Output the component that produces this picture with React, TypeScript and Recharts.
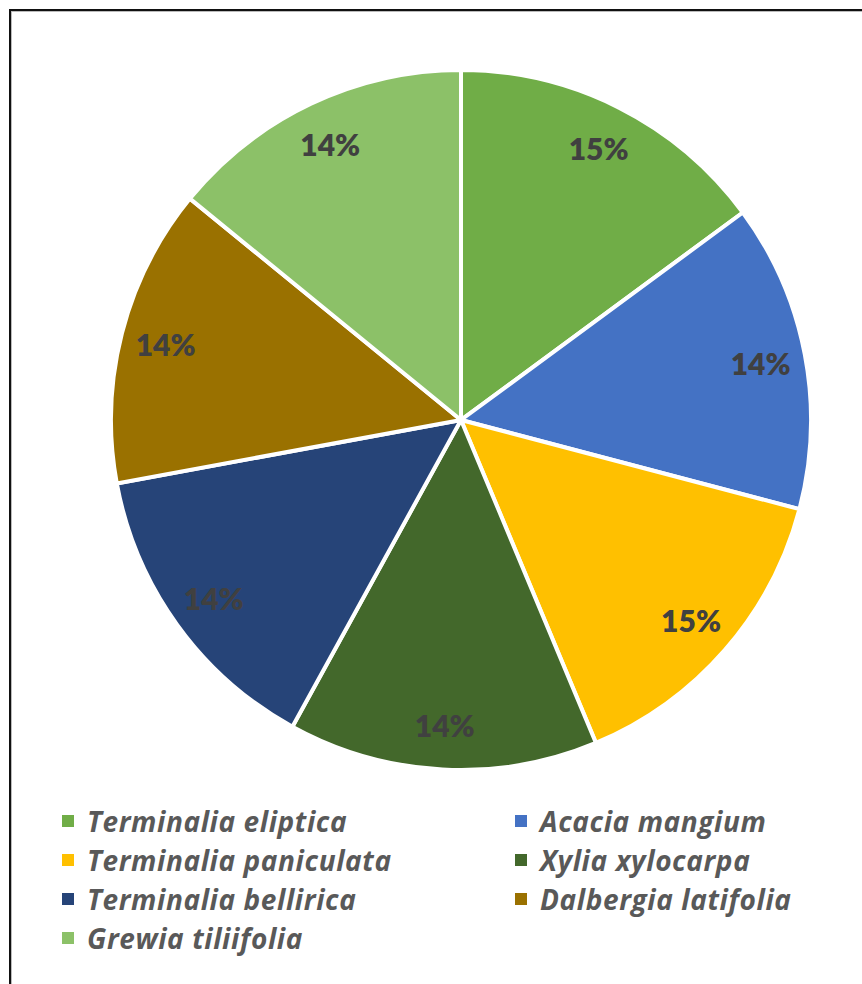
import { PieChart, Pie, Cell, Legend } from 'recharts';

const species = [
  'Terminalia eliptica',
  'Acacia mangium',
  'Terminalia paniculata',
  'Xylia xylocarpa',
  'Terminalia bellirica',
  'Dalbergia latifolia',
  'Grewia tiliifolia',
];

const shares = [14.9, 14.2, 14.6, 14.3, 14.1, 13.8, 14.1];

const colors = ['#70AD47', '#4472C4', '#FFC000', '#43682B', '#264478', '#9A7100', '#8CC168'];

const data = species.map((name, i) => ({ name, value: shares[i] }));

const RADIAN = Math.PI / 180;

const renderLabel = ({ cx, cy, midAngle, percent }: any) => {
  const r = 305;
  const x = cx + r * Math.cos(-midAngle * RADIAN);
  const y = cy + r * Math.sin(-midAngle * RADIAN);
  return (
    <text
      x={x}
      y={y}
      fill="#404040"
      textAnchor="middle"
      dominantBaseline="central"
      style={{ fontFamily: 'Lato, sans-serif', fontWeight: 800, fontSize: 30 }}
    >
      {`${Math.round(percent * 100)}%`}
    </text>
  );
};

const LegendBox = () => (
  <div
    style={{
      display: 'grid',
      gridTemplateColumns: '453px 400px',
      paddingLeft: 62,
      fontFamily: '"Open Sans", sans-serif',
      fontWeight: 700,
      fontStyle: 'italic',
      fontSize: 28,
      letterSpacing: 0.6,
      color: '#595959',
    }}
  >
    {data.map((d, i) => (
      <div key={d.name} style={{ display: 'flex', alignItems: 'center', height: 39 }}>
        <span style={{ width: 12, height: 12, background: colors[i], marginRight: 13, flexShrink: 0 }} />
        <span style={{ whiteSpace: 'nowrap' }}>{d.name}</span>
      </div>
    ))}
  </div>
);

export default function App() {
  return (
    <div style={{ position: 'absolute', left: 0, top: 0, width: 862, height: 984, background: '#fff' }}>
      <div
        style={{
          position: 'absolute',
          left: 9,
          top: 9,
          width: 900,
          height: 1000,
          borderLeft: '2px solid #111',
          borderTop: '2px solid #111',
          boxShadow: 'inset 1px 1px 0 #bbb',
        }}
      />
      <PieChart
        width={862}
        height={984}
        margin={{ top: 0, right: 0, bottom: 0, left: 0 }}
        style={{ position: 'absolute', left: 0, top: 0 }}
      >
        <Pie
          data={data}
          dataKey="value"
          nameKey="name"
          cx={461}
          cy={420}
          outerRadius={350}
          startAngle={90}
          endAngle={-270}
          stroke="#fff"
          strokeWidth={4}
          label={renderLabel}
          labelLine={false}
          isAnimationActive={false}
        >
          {data.map((d, i) => (
            <Cell key={d.name} fill={colors[i]} />
          ))}
        </Pie>
        <Legend
          content={<LegendBox />}
          wrapperStyle={{ position: 'absolute', left: 0, top: 801, width: 862 }}
        />
      </PieChart>
    </div>
  );
}
